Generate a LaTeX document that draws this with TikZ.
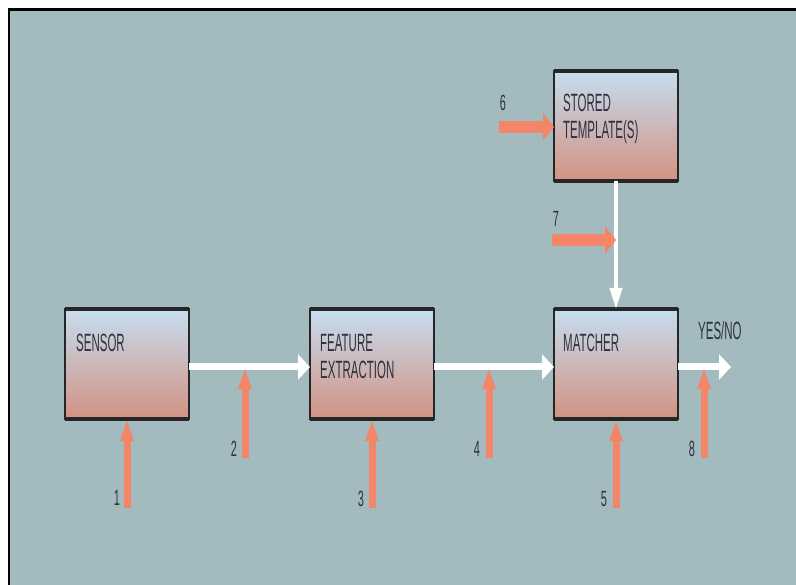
\documentclass[tikz,border=0pt]{standalone}
\usepackage{fontspec}
\usepackage{tikz}
\usetikzlibrary{calc,positioning,arrows.meta}
\newfontfamily\condfont[FakeStretch=0.46]{Liberation Sans}
\newfontfamily\digitfont[FakeStretch=0.5]{Liberation Sans}
\definecolor{panelbg}{RGB}{163,187,190}
\definecolor{boxtop}{RGB}{198,221,240}
\definecolor{boxbot}{RGB}{210,146,130}
\definecolor{salmon}{RGB}{243,134,104}
\definecolor{inkc}{RGB}{46,50,66}
\definecolor{edgec}{RGB}{38,38,40}

\begin{document}
\begin{tikzpicture}[
		x=1pt,
		y=-1pt,
		line join=miter,
		block/.style={draw=edgec, line width=1.2pt, top color=boxtop, bottom color=boxbot,
			minimum width=124pt, minimum height=110pt, inner sep=0pt, outer sep=0pt, anchor=north west},
		blocktxt/.style={font=\condfont\fontsize{25}{27}\selectfont, text=inkc, inner sep=0pt, anchor=base west, align=left},
		numtxt/.style={font=\digitfont\fontsize{22}{24}\selectfont, text=inkc, inner sep=0pt},
		flow/.style={draw=white, line width=7pt, -{Triangle[length=12pt,width=25pt]}},
		flowdown/.style={draw=white, line width=4pt, -{Triangle[length=21pt,width=12pt]}},
		probe/.style={draw=salmon, line width=7pt, -{Triangle[length=22pt,width=12pt]}},
		feed/.style={draw=salmon, line width=12.5pt, -{Triangle[length=11pt,width=27pt]}}
		]
		
		%------------------------------------------------------------------
		% Panel
		%------------------------------------------------------------------
		\useasboundingbox (0,0) rectangle (796,585);
		\clip (0,0) rectangle (796,585);
		\fill[panelbg] (9,10) rectangle (800,590);
		\draw[black, line width=2.6pt] (9,600) -- (9,9.3) -- (800,9.3);
		
		%------------------------------------------------------------------
		% Blocks
		%------------------------------------------------------------------
		\node[block] (sensor)  at ( 65,309) {};
		\node[block] (feature) at (310,309) {};
		\node[block] (matcher) at (554,309) {};
		\node[block] (stored)  at (554, 71) {};
		
		% heavy top and bottom edges
		\foreach \b in {sensor,feature,matcher,stored}{
			\draw[edgec, line width=3.5pt] (\b.north west) -- (\b.north east);
			\draw[edgec, line width=3.5pt] (\b.south west) -- (\b.south east);
		}
		
		% (base of a two-line label sits on its last line)
		\node[blocktxt] (sensorlbl)  at ( 76,352) {SENSOR};
		\node[blocktxt] (featurelbl) at (320,379) {FEATURE\\EXTRACTION};
		\node[blocktxt] (matcherlbl) at (563,352) {MATCHER};
		\node[blocktxt] (storedlbl)  at (563,139) {STORED\\TEMPLATE(S)};
		\node[blocktxt] (answer)     at (698,340) {YES/NO};
		
		%------------------------------------------------------------------
		% Coordinates
		%------------------------------------------------------------------
		\coordinate (yes) at (731,367);
		
		\coordinate (p1) at (127,508);
		\coordinate (p2) at (245,458);
		\coordinate (t2) at (245,367);
		\coordinate (p3) at (372,508);
		\coordinate (p4) at (489,458);
		\coordinate (t4) at (489,367);
		\coordinate (p5) at (616,508);
		\coordinate (p6) at (499,127);
		\coordinate (p7) at (552,240);
		\coordinate (p8) at (704,458);
		\coordinate (t8) at (704,367);
		
		%------------------------------------------------------------------
		% Data flow (white)
		%------------------------------------------------------------------
		\draw[flow] ([yshift=-3pt]sensor.east)  -- ([yshift=-3pt]feature.west);
		\draw[flow] ([yshift=-3pt]feature.east) -- ([yshift=-3pt]matcher.west);
		\draw[flow] ([yshift=-3pt]matcher.east) -- (yes);
		\draw[flowdown] (stored.south) -- (matcher.north);
		
		%------------------------------------------------------------------
		% Attack points (salmon)
		%------------------------------------------------------------------
		\draw[probe] (p1) -- (sensor.south);
		\draw[probe] (p2) -- (t2);
		\draw[probe] (p3) -- (feature.south);
		\draw[probe] (p4) -- (t4);
		\draw[probe] (p5) -- (matcher.south);
		\draw[probe] (p8) -- (t8);
		\draw[feed]  (p6) -- (p6 -| stored.west);
		\draw[feed]  (p7) -- (p7 -| stored.south);
		
		\node[numtxt] (n1) at (117,498) {1};
		\node[numtxt] (n2) at (234,449) {2};
		\node[numtxt] (n3) at (361,499) {3};
		\node[numtxt] (n4) at (477,449) {4};
		\node[numtxt] (n5) at (604,499) {5};
		\node[numtxt] (n6) at (503,103) {6};
		\node[numtxt] (n7) at (556,219) {7};
		\node[numtxt] (n8) at (692,449) {8};
		
	\end{tikzpicture}
\end{document}
